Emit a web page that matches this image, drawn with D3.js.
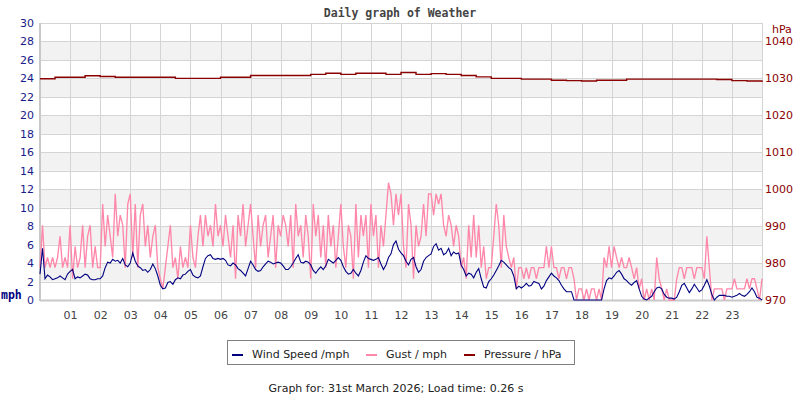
<!DOCTYPE html>
<html><head><meta charset="utf-8">
<script src="https://cdn.jsdelivr.net/npm/d3@7"></script>
<style>body{margin:0;background:#fff}svg{display:block}</style>
</head><body>
<svg id="c" width="800" height="400"></svg>
<script>
// ---- data ----
const hourLabels = ["01","02","03","04","05","06","07","08","09","10","11","12","13","14","15","16","17","18","19","20","21","22","23"];
const mphTicks = [0,2,4,6,8,10,12,14,16,18,20,22,24,26,28,30];
const hpaTicks = [970,980,990,1000,1010,1020,1030,1040];
const legendLabels = ["Wind Speed /mph","Gust / mph","Pressure / hPa"];
const seriesColors = ["#000080","#ff88aa","#8b0000"];

// gust, mph, every 5 minutes (12 per hour) from 00:00
const gust = [
 3.5,8.1,3.5,4.6,3.5,4.6,3.5,4.6,6.9,3.5,4.6,3.5,
 8.1,2.3,5.8,3.5,4.6,8.1,3.5,6.9,8.1,3.5,5.8,3.5,
 3.5,10.4,5.8,9.2,6.9,4.6,11.5,6.9,9.2,8.1,3.5,10.4,
 11.5,4.6,10.4,3.5,9.2,10.4,5.8,8.1,4.6,6.9,8.1,3.5,
 2.3,1.2,3.5,5.8,8.1,3.5,4.6,2.3,5.8,3.5,4.6,3.5,
 8.1,4.6,3.5,6.9,9.2,5.8,9.2,6.9,8.1,5.8,10.4,6.9,
 8.1,5.8,9.2,6.9,4.6,8.1,2.3,9.2,6.9,10.4,5.8,8.1,
 10.4,6.9,3.5,9.2,5.8,8.1,9.2,4.6,6.9,9.2,3.5,8.1,
 6.9,9.2,8.1,5.8,9.2,3.5,10.4,6.9,8.1,4.6,9.2,6.9,
 2.3,10.4,6.9,9.2,4.6,8.1,3.5,9.2,5.8,8.1,3.5,6.9,
 10.4,5.8,3.5,8.1,6.9,2.3,10.4,4.6,9.2,6.9,9.2,3.5,
 10.4,6.9,9.2,3.5,8.1,5.8,9.2,12.7,11.5,8.1,11.5,9.2,
 11.5,5.8,3.5,10.4,8.1,2.3,8.1,5.8,6.9,10.4,6.9,11.5,
 11.5,9.2,11.5,10.4,11.5,8.1,6.9,9.2,8.1,5.8,8.1,6.9,
 3.5,4.6,2.3,8.1,4.6,9.2,4.6,8.1,3.5,5.8,2.3,3.5,
 3.5,6.9,10.4,8.1,3.5,9.2,5.8,4.6,3.5,4.6,1.2,3.5,
 3.5,2.3,3.5,2.3,3.5,3.5,2.3,3.5,3.5,3.5,5.8,3.5,
 5.8,3.5,3.5,2.3,3.5,3.5,2.3,3.5,3.5,2.3,0,1.2,
 1.2,0,1.2,0,1.2,1.2,0,1.2,0,4.6,3.5,5.8,
 3.5,5.8,4.6,3.5,4.6,3.5,3.5,4.6,3.5,2.3,3.5,1.2,
 2.3,0,1.2,0,1.2,0,4.6,2.3,1.2,0,1.2,0,
 0,0,2.3,3.5,3.5,2.3,3.5,3.5,3.5,2.3,3.5,3.5,
 3.5,2.3,6.9,3.5,0,1.2,1.2,1.2,1.2,0,1.2,1.2,
 1.2,2.3,1.2,1.2,1.2,1.2,2.3,1.2,2.3,2.3,1.2,0,
 2.3
];

// wind speed, mph, every 5 minutes
const wind = [
 2.8,5.6,2.3,2.7,2.5,2.2,2.3,2.4,2.6,2.4,2.2,2.8,
 3.1,3.3,2.3,2.5,2.4,2.6,2.8,2.7,2.3,2.2,2.2,2.3,
 2.3,2.6,3.5,4.1,4.0,4.4,4.2,4.3,4.0,4.5,3.8,3.6,
 4.0,5.1,4.2,3.7,3.5,3.2,3.3,3.0,3.3,3.9,3.4,2.6,
 1.6,1.2,1.3,1.9,2.0,1.7,2.2,2.4,2.3,2.7,2.8,3.1,
 3.3,2.7,2.5,2.4,2.6,3.6,4.5,4.8,4.9,4.5,4.4,4.5,
 4.4,4.5,4.3,3.8,3.7,4.0,3.8,3.4,3.2,2.9,2.6,3.4,
 4.2,3.8,3.3,3.1,3.2,3.6,3.9,4.2,4.1,3.9,4.0,4.1,
 4.0,3.7,3.3,3.3,3.6,4.0,4.5,4.9,4.1,4.0,4.2,4.1,
 3.8,3.2,2.9,3.3,3.6,3.3,3.7,4.4,4.2,4.0,4.3,4.6,
 4.3,3.6,3.1,2.8,2.9,3.3,2.9,2.6,3.2,4.1,4.8,4.5,
 4.4,4.3,4.4,4.6,3.9,3.3,3.8,4.6,5.0,6.0,6.4,5.5,
 5.1,4.8,4.2,3.8,4.4,4.6,3.6,3.0,3.3,4.2,4.6,4.8,
 5.0,5.8,6.1,5.4,5.6,4.9,5.1,5.6,4.8,5.2,5.0,5.1,
 3.8,3.3,2.6,2.9,2.8,2.4,3.0,3.4,2.3,1.4,1.3,2.0,
 2.3,2.7,3.2,3.7,4.3,4.1,3.8,3.5,3.3,2.6,1.2,1.5,
 1.3,1.5,1.8,1.5,1.6,2.0,1.9,1.8,1.2,1.5,2.1,2.5,
 2.9,2.6,2.4,2.1,1.6,1.2,0.9,0.9,0.9,0,0,0,
 0,0,0,0,0,0,0,0,0,1.2,2.1,2.4,
 2.3,2.6,3.0,3.2,2.8,2.3,2.1,1.8,1.6,1.9,2.1,1.2,
 0.4,0.1,0,0.2,0.4,0.9,1.3,1.4,1.2,0.6,0.3,0.2,
 0.2,0.1,0.3,0.9,1.6,1.8,1.3,0.8,1.2,1.7,1.3,0.9,
 1.1,1.6,2.2,1.5,0.6,0,0.3,0.5,0.5,0.5,0.4,0.4,
 0.3,0.4,0.5,0.7,0.5,0.4,0.6,0.9,1.3,0.9,0.3,0.2,
 0
];

// pressure, hPa, every 30 minutes
const pressure = [
 1029.9,1030.3,1030.3,1030.7,1030.5,1030.3,1030.3,1030.3,
 1030.3,1030.0,1030.0,1030.0,1030.3,1030.3,1030.8,1030.8,
 1030.8,1030.8,1031.1,1031.4,1031.1,1031.4,1031.4,1031.1,
 1031.6,1031.1,1031.3,1031.1,1030.8,1030.4,1030.0,1030.0,
 1029.8,1029.8,1029.5,1029.4,1029.3,1029.5,1029.5,1029.8,
 1029.8,1029.8,1029.8,1029.8,1029.8,1029.7,1029.4,1029.3,
 1029.0
];

const titleText = "Daily graph of Weather";
const footerText = "Graph for: 31st March 2026; Load time: 0.26 s";

// ---- chart ----
const svg = d3.select("#c");
const L = 40, R = 762, T = 23, B = 300;
const x = d3.scaleLinear().domain([0, 24]).range([L, R]);
const y = d3.scaleLinear().domain([0, 30]).range([B, T]);
const y2 = d3.scaleLinear().domain([970, 1045]).range([B, T]);
const font = "'DejaVu Sans', sans-serif";

// alternating bands
const bands = mphTicks.filter(v => v % 4 === 2 && v < 30);
svg.append("g").selectAll("rect").data(bands).join("rect")
  .attr("x", L).attr("width", R - L)
  .attr("y", d => y(d + 2)).attr("height", d => y(d) - y(d + 2))
  .attr("fill", "#f2f2f2");

// grid
const grid = svg.append("g").attr("stroke", "#d4d4d4").attr("stroke-width", 1).attr("shape-rendering", "crispEdges");
grid.selectAll(".h").data(mphTicks).join("line")
  .attr("x1", L).attr("x2", R)
  .attr("y1", d => Math.round(y(d)) + 0.5).attr("y2", d => Math.round(y(d)) + 0.5);
grid.selectAll(".v").data(d3.range(0, 25)).join("line")
  .attr("y1", T).attr("y2", B)
  .attr("x1", d => Math.round(x(d)) + 0.5).attr("x2", d => Math.round(x(d)) + 0.5);
// axis borders
svg.append("line").attr("x1", L).attr("x2", L).attr("y1", T).attr("y2", B + 1)
  .attr("stroke", "#c8c8c8").attr("stroke-width", 2);
svg.append("line").attr("x1", L).attr("x2", R).attr("y1", B + 0.5).attr("y2", B + 0.5)
  .attr("stroke", "#c8c8c8").attr("stroke-width", 2);

// series
const t12 = (d, i) => x(i / 12);
const gustLine = d3.line().x(t12).y(d => y(d));
svg.append("path").datum(gust).attr("d", gustLine)
  .attr("fill", "none").attr("stroke", seriesColors[1]).attr("stroke-width", 1.35);
const windLine = d3.line().x(t12).y(d => y(d)).curve(d3.curveLinear);
svg.append("path").datum(wind).attr("d", windLine)
  .attr("fill", "none").attr("stroke", seriesColors[0]).attr("stroke-width", 1.1);
const presLine = d3.line().x((d, i) => x(i / 2)).y(d => y2(d)).curve(d3.curveStepAfter);
svg.append("path").datum(pressure).attr("d", presLine)
  .attr("fill", "none").attr("stroke", seriesColors[2]).attr("stroke-width", 1.4);

// axes (labels only)
const ax = svg.append("g").attr("transform", `translate(${L - 5},0)`)
  .call(d3.axisLeft(y).tickValues(mphTicks).tickSize(0).tickPadding(1));
ax.select(".domain").remove();
ax.selectAll("text").attr("fill", "#1a1a8a").style("font", `11px ${font}`);

const ax2 = svg.append("g").attr("transform", `translate(${R + 2},0)`)
  .call(d3.axisRight(y2).tickValues(hpaTicks).tickSize(0).tickPadding(1).tickFormat(d3.format("d")));
ax2.select(".domain").remove();
ax2.selectAll("text").attr("fill", "#8b0000").style("font", `11px ${font}`);

const ax3 = svg.append("g").attr("transform", `translate(0,${B + 11})`)
  .call(d3.axisBottom(x).tickValues(d3.range(1, 24)).tickSize(0).tickPadding(0)
    .tickFormat((d, i) => hourLabels[i]));
ax3.select(".domain").remove();
ax3.selectAll("text").attr("fill", "#444").style("font", `11px ${font}`);

// axis units
svg.append("text").attr("x", 1).attr("y", 299).text("mph")
  .attr("fill", "#000080").style("font", "bold 11.5px 'DejaVu Sans Mono', monospace");
svg.append("text").attr("x", 772).attr("y", 33).text("hPa")
  .attr("fill", "#8b0000").style("font", `11px ${font}`);

// title
svg.append("text").attr("x", 400).attr("y", 17).attr("text-anchor", "middle").text(titleText)
  .attr("fill", "#444").style("font", "bold 11.5px 'DejaVu Sans Mono', monospace");

// legend
svg.append("rect").attr("x", 227.5).attr("y", 340.5).attr("width", 347).attr("height", 24)
  .attr("fill", "#fff").attr("stroke", "#808080").attr("stroke-width", 1);
const legX = [232, 366, 464];
const lg = svg.append("g").selectAll("g").data(legendLabels).join("g")
  .attr("transform", (d, i) => `translate(${legX[i]},0)`);
lg.append("line").attr("x1", 0).attr("x2", 11).attr("y1", 355).attr("y2", 355)
  .attr("stroke", (d, i) => seriesColors[i]).attr("stroke-width", 2);
lg.append("text").attr("x", 20).attr("y", 358).text(d => d)
  .attr("fill", "#222").style("font", `11px ${font}`);

// footer
svg.append("text").attr("x", 396).attr("y", 392).attr("text-anchor", "middle").text(footerText)
  .attr("fill", "#222").style("font", `11px ${font}`);
</script>
</body></html>
